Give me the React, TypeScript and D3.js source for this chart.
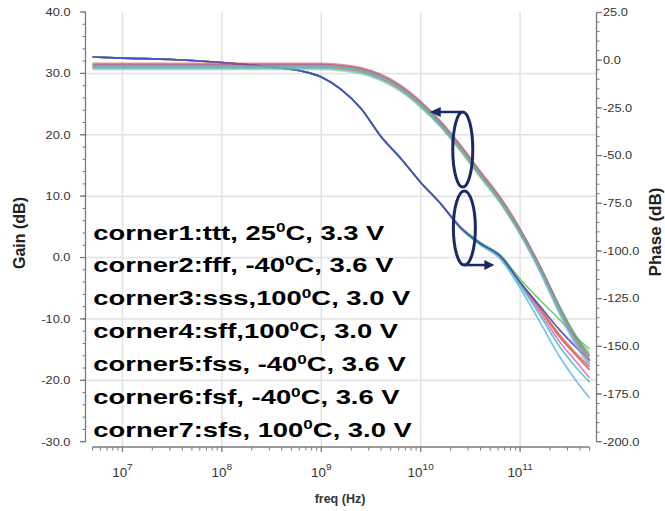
import React from "react";
import * as d3 from "d3";

// Frequency sweep points (Hz)
const FREQ = [
  5e6, 1e7, 3.16e7, 1e8, 3.16e8, 6.31e8, 1e9, 1.58e9, 2.51e9, 3.98e9, 6.31e9,
  1e10, 1.58e10, 2.51e10, 3.98e10, 6.31e10, 1e11, 1.58e11, 2.51e11, 3.55e11, 5e11,
];

const CORNER_COLORS = ["#4040c4", "#e24a4a", "#62c862", "#e462d6", "#6bb6ee", "#cf7a3a", "#45c6c0"];

// Gain (dB) per corner
const GAIN_C1 = [31.4, 31.4, 31.4, 31.4, 31.4, 31.4, 31.4, 31.2, 30.7, 29.6, 27.8, 25.2, 22.0, 18.1, 13.8, 9.6, 4.5, -1.4, -8.1, -12.6, -16.1];
const GAIN_C2 = [31.6, 31.6, 31.6, 31.6, 31.6, 31.6, 31.6, 31.4, 30.9, 29.8, 28.0, 25.4, 22.2, 18.3, 14.0, 9.8, 4.6, -1.5, -8.4, -13.2, -16.9];
const GAIN_C3 = [30.7, 30.7, 30.7, 30.7, 30.7, 30.7, 30.7, 30.5, 30.0, 28.9, 27.1, 24.5, 21.3, 17.4, 13.1, 8.9, 3.9, -1.9, -8.3, -12.5, -15.6];
const GAIN_C4 = [31.0, 31.0, 31.0, 31.0, 31.0, 31.0, 31.0, 30.8, 30.3, 29.2, 27.4, 24.8, 21.6, 17.7, 13.4, 9.2, 4.0, -2.1, -9.0, -13.7, -17.4];
const GAIN_C5 = [30.9, 30.9, 30.9, 30.9, 30.9, 30.9, 30.9, 30.7, 30.2, 29.1, 27.3, 24.7, 21.5, 17.6, 13.3, 9.1, 3.9, -2.2, -9.2, -14.0, -17.8];
const GAIN_C6 = [31.1, 31.1, 31.1, 31.1, 31.1, 31.1, 31.1, 30.9, 30.4, 29.3, 27.5, 24.9, 21.7, 17.8, 13.5, 9.3, 4.2, -1.7, -8.5, -13.0, -16.6];
const GAIN_C7 = [31.2, 31.2, 31.2, 31.2, 31.2, 31.2, 31.2, 31.0, 30.5, 29.4, 27.6, 25.0, 21.8, 17.9, 13.6, 9.4, 4.3, -1.8, -8.7, -13.3, -17.0];

// Phase (deg) per corner
const PHASE_C1 = [1.7, 1.1, 0.4, -1.2, -3.6, -5.7, -8.8, -15.3, -25.3, -40.0, -51.5, -64.1, -75.1, -87.7, -96.1, -102.6, -116.3, -128.9, -141.5, -149.8, -157.2];
const PHASE_C2 = [1.7, 1.1, 0.4, -1.2, -3.6, -5.7, -8.8, -15.3, -25.3, -40.0, -51.5, -64.1, -75.1, -87.8, -96.3, -103.2, -116.8, -130.4, -145.2, -154.0, -162.4];
const PHASE_C3 = [1.7, 1.1, 0.4, -1.2, -3.6, -5.7, -8.8, -15.3, -25.3, -40.0, -51.5, -64.1, -75.0, -87.2, -95.4, -102.1, -114.7, -125.7, -136.2, -144.6, -151.4];
const PHASE_C4 = [1.7, 1.1, 0.4, -1.2, -3.6, -5.7, -8.8, -15.3, -25.3, -40.0, -51.5, -64.1, -75.1, -87.9, -96.4, -103.2, -117.3, -132.0, -147.8, -157.2, -166.6];
const PHASE_C5 = [1.7, 1.1, 0.4, -1.2, -3.6, -5.7, -8.8, -15.3, -25.3, -40.0, -51.5, -64.1, -75.2, -88.3, -96.9, -104.2, -119.4, -137.2, -155.6, -167.1, -177.1];
const PHASE_C6 = [1.7, 1.1, 0.4, -1.2, -3.6, -5.7, -8.8, -15.3, -25.3, -40.0, -51.5, -64.1, -75.1, -87.7, -96.2, -103.2, -116.8, -129.9, -144.1, -153.0, -160.8];
const PHASE_C7 = [1.7, 1.1, 0.4, -1.2, -3.6, -5.7, -8.8, -15.3, -25.3, -40.0, -51.5, -64.1, -75.1, -87.9, -96.5, -103.2, -117.8, -133.6, -150.4, -160.3, -168.8];

const GAIN_SERIES = [GAIN_C1, GAIN_C2, GAIN_C3, GAIN_C4, GAIN_C5, GAIN_C6, GAIN_C7];
const PHASE_SERIES = [PHASE_C1, PHASE_C2, PHASE_C3, PHASE_C4, PHASE_C5, PHASE_C6, PHASE_C7];

const LEGEND_PRE = [
  "corner1:ttt, 25",
  "corner2:fff, -40",
  "corner3:sss,100",
  "corner4:sff,100",
  "corner5:fss, -40",
  "corner6:fsf, -40",
  "corner7:sfs, 100",
];
const LEGEND_POST = ["C, 3.3 V", "C, 3.6 V", "C, 3.0 V", "C, 3.0 V", "C, 3.6 V", "C, 3.6 V", "C, 3.0 V"];

const GAIN_TICKS = [40, 30, 20, 10, 0, -10, -20, -30];
const PHASE_TICKS = [25, 0, -25, -50, -75, -100, -125, -150, -175, -200];
const DECADES = [7, 8, 9, 10, 11];

const FONT = "'Liberation Sans', Arial, Helvetica, sans-serif";

export default function App() {
  const W = 665;
  const H = 511;

  const x = d3.scaleLog().domain([5e6, 5e11]).range([92.5, 589.6]);
  const yG = d3.scaleLinear().domain([40, -30]).range([12, 441.7]);
  const yP = d3.scaleLinear().domain([25, -200]).range([12.5, 441.7]);

  const leftX = 85.5;
  const rightX = 596.5;
  const axisY = 447;

  const gainLine = d3
    .line<number>()
    .x((_, i) => x(FREQ[i]))
    .y((d) => yG(d))
    .curve(d3.curveMonotoneX);
  const phaseLine = d3
    .line<number>()
    .x((_, i) => x(FREQ[i]))
    .y((d) => yP(d))
    .curve(d3.curveMonotoneX);

  const gainMinor = d3.range(40, -30.01, -2);
  const phaseMinor = d3.range(25, -200.01, -5);
  const xMinor: number[] = [];
  for (let e = 6; e <= 11; e++) {
    for (let m = 2; m <= 9; m++) {
      const f = m * Math.pow(10, e);
      if (f >= 5e6 && f <= 5e11) xMinor.push(f);
    }
  }

  const axisColor = "#7a7a7a";
  const gridColor = "#e2e2e2";
  const navy = "#1b2a66";

  // phase drawn with corner1 last so it sits on top where the traces coincide
  const phaseOrder = [1, 2, 3, 4, 5, 6, 0];

  const upperEll = { cx: x(2.65e10), cy: yG(17.6), rx: 10, ry: 37.5 };
  const lowerEll = { cx: x(2.75e10), cy: yP(-88), rx: 11, ry: 37 };

  return (
    <svg
      width={W}
      height={H}
      style={{ position: "absolute", left: 0, top: 0, background: "#fff" }}
      fontFamily={FONT}
    >
      <rect width={W} height={H} fill="#fff" />

      {/* grid */}
      {DECADES.map((e) => (
        <line
          key={"vg" + e}
          x1={x(Math.pow(10, e))}
          x2={x(Math.pow(10, e))}
          y1={12}
          y2={axisY}
          stroke={gridColor}
          strokeWidth={1.5}
        />
      ))}
      {GAIN_TICKS.filter((t) => t < 40 && t > -30).map((t) => (
        <line key={"hg" + t} x1={leftX} x2={rightX} y1={yG(t)} y2={yG(t)} stroke={gridColor} strokeWidth={1.5} />
      ))}

      {/* left gain axis */}
      <line x1={leftX} x2={leftX} y1={yG(40)} y2={yG(-30)} stroke={axisColor} strokeWidth={1.3} />
      {gainMinor.map((t) => (
        <line key={"gm" + t} x1={leftX - 3} x2={leftX} y1={yG(t)} y2={yG(t)} stroke={axisColor} strokeWidth={1} />
      ))}
      {GAIN_TICKS.map((t) => (
        <g key={"gt" + t}>
          <line x1={leftX - 5.5} x2={leftX} y1={yG(t)} y2={yG(t)} stroke={axisColor} strokeWidth={1.3} />
          <text
            transform={`translate(70.5,${yG(t) + 3.8}) scale(1.22,1)`}
            textAnchor="end"
            fontSize={10.5}
            fill="#333"
          >
            {t.toFixed(1)}
          </text>
        </g>
      ))}

      {/* right phase axis */}
      <line x1={rightX} x2={rightX} y1={yP(25)} y2={yP(-200)} stroke={axisColor} strokeWidth={1.3} />
      {phaseMinor.map((t) => (
        <line key={"pm" + t} x1={rightX} x2={rightX + 3} y1={yP(t)} y2={yP(t)} stroke={axisColor} strokeWidth={1} />
      ))}
      {PHASE_TICKS.map((t) => (
        <g key={"pt" + t}>
          <line x1={rightX} x2={rightX + 5.5} y1={yP(t)} y2={yP(t)} stroke={axisColor} strokeWidth={1.3} />
          <text
            transform={`translate(603,${yP(t) + 3.8}) scale(1.22,1)`}
            textAnchor="start"
            fontSize={10.5}
            fill="#333"
          >
            {t.toFixed(1)}
          </text>
        </g>
      ))}

      {/* bottom frequency axis */}
      <line x1={x(5e6)} x2={x(5e11)} y1={axisY} y2={axisY} stroke={axisColor} strokeWidth={1.3} />
      {xMinor.map((f) => (
        <line key={"xm" + f} x1={x(f)} x2={x(f)} y1={axisY} y2={axisY + 3.5} stroke={axisColor} strokeWidth={1} />
      ))}
      {DECADES.map((e) => (
        <g key={"xt" + e}>
          <line
            x1={x(Math.pow(10, e))}
            x2={x(Math.pow(10, e))}
            y1={axisY}
            y2={axisY + 5}
            stroke={axisColor}
            strokeWidth={1.3}
          />
          <text
            transform={`translate(${x(Math.pow(10, e))},476.5) scale(1.12,1)`}
            textAnchor="middle"
            fontSize={12}
            fill="#333"
          >
            10
            <tspan fontSize={9} dy={-6.5}>
              {e}
            </tspan>
          </text>
        </g>
      ))}

      {/* axis titles */}
      <text x={340} y={503} textAnchor="middle" fontSize={12.5} fontWeight="bold" fill="#333">
        freq (Hz)
      </text>
      <text
        transform={`translate(24.5,233) rotate(-90)`}
        textAnchor="middle"
        fontSize={16}
        fontWeight="bold"
        fill="#222"
      >
        Gain (dB)
      </text>
      <text
        transform={`translate(661,232) rotate(-90)`}
        textAnchor="middle"
        fontSize={17}
        fontWeight="bold"
        fill="#222"
      >
        Phase (dB)
      </text>

      {/* phase traces */}
      {phaseOrder.map((i) => (
        <path
          key={"ph" + i}
          d={phaseLine(PHASE_SERIES[i]) || ""}
          fill="none"
          stroke={CORNER_COLORS[i]}
          strokeWidth={1.6}
          strokeOpacity={0.9}
        />
      ))}

      {/* gain traces */}
      {GAIN_SERIES.map((s, i) => (
        <path
          key={"gn" + i}
          d={gainLine(s) || ""}
          fill="none"
          stroke={CORNER_COLORS[i]}
          strokeWidth={2.2}
          strokeOpacity={0.6}
        />
      ))}

      {/* legend */}
      {LEGEND_PRE.map((pre, i) => (
        <text
          key={"lg" + i}
          transform={`translate(93.3,${239.5 + i * 32.9}) scale(1.37,1)`}
          fontSize={20}
          fontWeight="bold"
          fill="#000"
        >
          {pre}
          <tspan fontSize={12.5} dy={-7.5}>
            0
          </tspan>
          <tspan dy={7.5}>{LEGEND_POST[i]}</tspan>
        </text>
      ))}

      {/* annotation: gain group -> left axis */}
      <ellipse
        cx={upperEll.cx}
        cy={upperEll.cy}
        rx={upperEll.rx}
        ry={upperEll.ry}
        fill="none"
        stroke={navy}
        strokeWidth={3}
      />
      <line
        x1={upperEll.cx}
        x2={upperEll.cx - 24}
        y1={upperEll.cy - upperEll.ry}
        y2={upperEll.cy - upperEll.ry}
        stroke={navy}
        strokeWidth={2.5}
      />
      <polygon
        points={`${upperEll.cx - 33},${upperEll.cy - upperEll.ry} ${upperEll.cx - 22},${upperEll.cy - upperEll.ry - 5} ${upperEll.cx - 22},${upperEll.cy - upperEll.ry + 5}`}
        fill={navy}
      />

      {/* annotation: phase group -> right axis */}
      <ellipse
        cx={lowerEll.cx}
        cy={lowerEll.cy}
        rx={lowerEll.rx}
        ry={lowerEll.ry}
        fill="none"
        stroke={navy}
        strokeWidth={3}
      />
      <line
        x1={lowerEll.cx}
        x2={lowerEll.cx + 22}
        y1={lowerEll.cy + lowerEll.ry}
        y2={lowerEll.cy + lowerEll.ry}
        stroke={navy}
        strokeWidth={2.5}
      />
      <polygon
        points={`${lowerEll.cx + 30},${lowerEll.cy + lowerEll.ry} ${lowerEll.cx + 20},${lowerEll.cy + lowerEll.ry - 5} ${lowerEll.cx + 20},${lowerEll.cy + lowerEll.ry + 5}`}
        fill={navy}
      />
    </svg>
  );
}
